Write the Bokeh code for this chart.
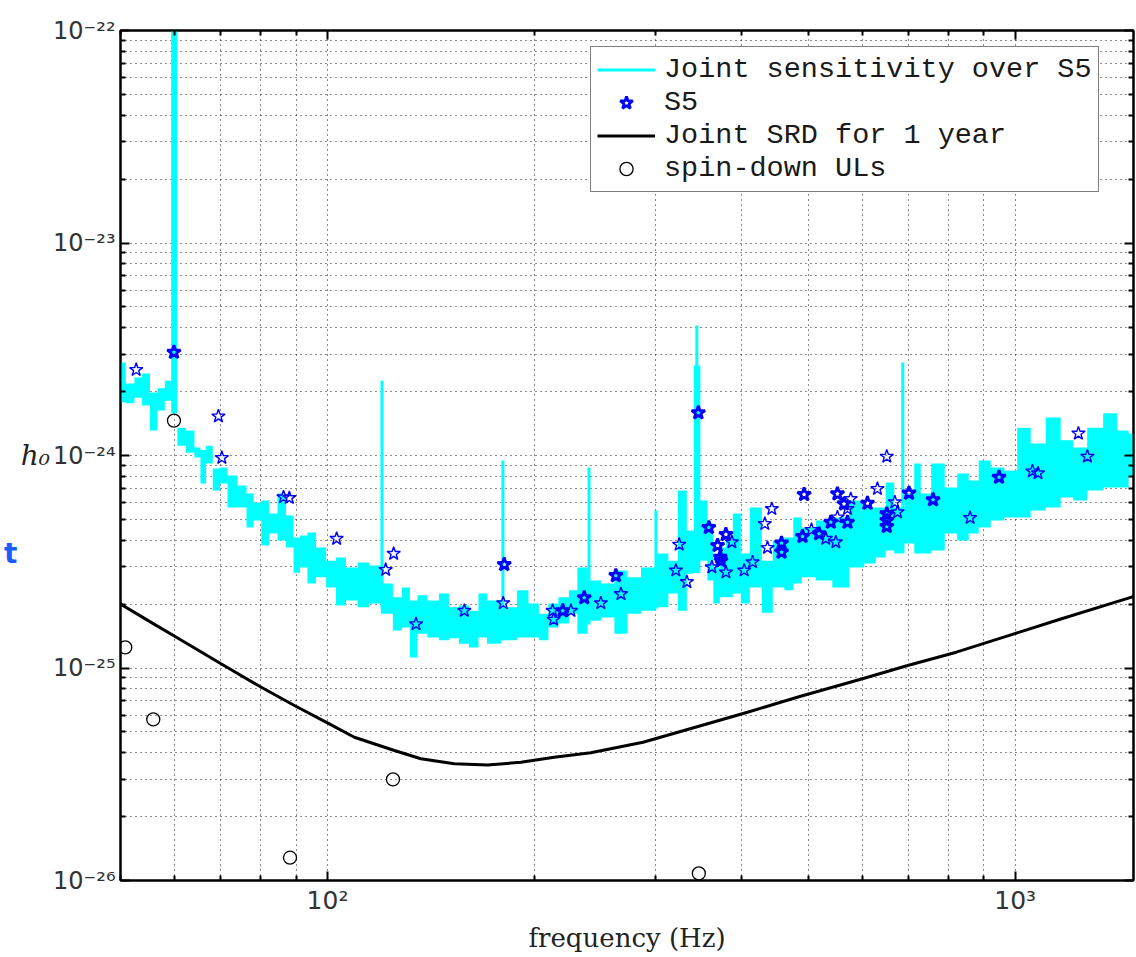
from bokeh.plotting import figure
from bokeh.models import (FixedTicker, CustomJSTickFormatter, LogAxis,
                          Legend, LegendItem, Range1d)
from bokeh.embed import file_html
from bokeh.resources import INLINE

# ---------------- data ----------------
# Joint sensitivity over S5: noisy band, per frequency upper / lower extent
sens_f = [50.0, 51.8, 53.0, 54.5, 55.9, 57.3, 58.7, 59.8, 61.2, 63.3, 64.8, 65.9, 67.3,
          68.9, 70.7, 72.4, 75.6, 76.9, 79.3, 80.9, 83.6, 85.6, 88.5, 90.0, 92.4, 94.6,
          97.9, 101.2, 104.6, 108.2, 113.0, 116.8, 122.4, 126.6, 130.0, 133.6, 136.7,
          142.8, 147.7, 152.7, 157.9, 163.3, 168.3, 172.9, 184.8, 192.4, 199.6, 206.4,
          212.7, 220.7, 228.2, 233.6, 244.1, 255.7, 267.1, 279.0, 292.4, 308.4, 317.8,
          328.6, 337.5, 344.4, 352.6, 360.9, 367.0, 377.0, 382.1, 395.1, 403.1, 419.6,
          436.8, 451.6, 471.7, 479.7, 499.3, 526.8, 557.7, 590.3, 616.6, 637.6, 659.2,
          674.9, 704.9, 721.6, 736.2, 774.1, 805.8, 841.6, 870.4, 900.0, 943.2, 985.1,
          1028.9, 1078.2, 1137.6, 1192.0, 1237.0, 1309.2, 1376.6, 1437.9, 1486.6]
sens_top = [2.74e-24, 2.18e-24, 2.33e-24, 2.43e-24, 1.98e-24, 2.07e-24, 2.25e-24, 5.0e-22,
            1.35e-24, 1.31e-24, 1.09e-24, 1.06e-24, 1.11e-24, 8.69e-25, 8.78e-25, 8.05e-25,
            7.22e-25, 6.62e-25, 6.01e-25, 6.14e-25, 5.33e-25, 6.62e-25, 5.22e-25, 4.11e-25,
            4.20e-25, 4.34e-25, 3.69e-25, 3.20e-25, 3.31e-25, 2.97e-25, 3.14e-25, 3.04e-25,
            2.50e-25, 2.15e-25, 2.39e-25, 2.08e-25, 2.20e-25, 2.08e-25, 2.24e-25, 1.93e-25,
            1.97e-25, 1.86e-25, 2.24e-25, 2.08e-25, 1.93e-25, 2.32e-25, 2.01e-25, 1.80e-25,
            2.01e-25, 2.15e-25, 2.32e-25, 2.97e-25, 2.58e-25, 2.50e-25, 2.88e-25, 2.67e-25,
            2.97e-25, 3.46e-25, 3.20e-25, 6.84e-25, 4.44e-25, 2.65e-24, 6.14e-25, 4.79e-25,
            2.97e-25, 3.69e-25, 3.98e-25, 5.33e-25, 3.46e-25, 5.69e-25, 3.20e-25, 3.98e-25,
            4.11e-25, 5.11e-25, 4.58e-25, 4.94e-25, 5.11e-25, 6.14e-25, 5.69e-25, 5.69e-25,
            7.46e-25, 5.69e-25, 6.62e-25, 9.17e-25, 6.62e-25, 9.17e-25, 7.07e-25, 8.23e-25,
            7.63e-25, 9.47e-25, 8.78e-25, 8.50e-25, 1.35e-24, 1.14e-24, 1.51e-24, 1.18e-24,
            1.09e-24, 1.35e-24, 1.58e-24, 1.31e-24, 1.27e-24]
sens_bot = [1.78e-24, 1.76e-24, 1.87e-24, 1.72e-24, 1.31e-24, 1.63e-24, 1.81e-24, 1.58e-24,
            1.11e-24, 1.03e-24, 9.78e-25, 7.38e-25, 9.17e-25, 6.84e-25, 7.38e-25, 5.69e-25,
            5.69e-25, 4.58e-25, 4.94e-25, 3.77e-25, 4.30e-25, 3.98e-25, 3.69e-25, 2.81e-25,
            2.97e-25, 2.50e-25, 2.67e-25, 2.39e-25, 1.97e-25, 2.08e-25, 1.93e-25, 2.01e-25,
            1.80e-25, 1.50e-25, 1.55e-25, 1.12e-25, 1.45e-25, 1.39e-25, 1.35e-25, 1.38e-25,
            1.30e-25, 1.25e-25, 1.39e-25, 1.30e-25, 1.35e-25, 1.39e-25, 1.39e-25, 1.35e-25,
            1.55e-25, 1.62e-25, 1.80e-25, 1.45e-25, 1.67e-25, 1.73e-25, 1.45e-25, 1.80e-25,
            1.86e-25, 1.93e-25, 2.24e-25, 1.86e-25, 2.78e-25, 2.80e-25, 3.20e-25, 2.58e-25,
            2.01e-25, 2.15e-25, 2.15e-25, 2.24e-25, 2.01e-25, 2.39e-25, 1.82e-25, 2.39e-25,
            2.32e-25, 2.50e-25, 2.67e-25, 2.58e-25, 2.39e-25, 2.97e-25, 3.10e-25, 3.31e-25,
            3.57e-25, 3.46e-25, 3.85e-25, 3.46e-25, 3.46e-25, 3.57e-25, 4.30e-25, 3.98e-25,
            4.30e-25, 4.58e-25, 4.94e-25, 5.11e-25, 5.11e-25, 5.51e-25, 5.69e-25, 6.34e-25,
            6.14e-25, 6.84e-25, 7.07e-25, 7.07e-25, 7.88e-25]

# narrow lines (spikes) in the joint sensitivity
line_f = [120.0, 179.9, 240.0, 300.3, 344.4, 686.3]
line_lo = [1.9e-25, 1.35e-25, 1.6e-25, 1.9e-25, 2.0e-24, 3.5e-25]
line_hi = [2.25e-24, 9.47e-25, 8.78e-25, 5.51e-25, 4.09e-24, 2.74e-24]

# S5 upper limits (stars)
s5_f = [52.7, 69.4, 70.2, 86.3, 88.0, 103.1, 124.8, 121.5, 134.5, 158.1, 180.1, 212.5,
        213.2, 225.9, 249.7, 267.1, 321.0, 324.6, 333.1, 362.2, 379.6, 387.3, 403.5,
        415.0, 432.4, 436.3, 442.7, 505.6, 530.4, 548.4, 576.6, 570.3, 551.5, 630.5,
        650.5, 668.3, 674.3, 859.7, 1059.3, 1079.3, 1235.8, 1273.4]
s5_h = [2.53e-24, 1.53e-24, 9.75e-25, 6.37e-25, 6.32e-25, 4.06e-25, 3.45e-25, 2.90e-25,
        1.61e-25, 1.86e-25, 2.02e-25, 1.86e-25, 1.69e-25, 1.86e-25, 2.02e-25, 2.23e-25,
        2.88e-25, 3.81e-25, 2.54e-25, 2.98e-25, 2.82e-25, 3.91e-25, 2.88e-25, 3.15e-25,
        4.77e-25, 3.68e-25, 5.61e-25, 4.47e-25, 4.06e-25, 3.91e-25, 6.25e-25, 5.61e-25,
        5.12e-25, 6.97e-25, 9.89e-25, 6.03e-25, 5.41e-25, 5.09e-25, 8.43e-25, 8.26e-25,
        1.27e-24, 9.89e-25]
# S5 stars drawn heavier (overlapping pulsars)
s5b_f = [59.8, 180.7, 219.8, 236.2, 262.6, 346.1, 358.5, 369.2, 379.6, 373.3, 372.4,
         457.3, 457.3, 493.2, 490.6, 518.6, 539.3, 551.5, 563.8, 570.3, 609.8, 650.5,
         650.5, 650.5, 700.8, 759.5, 947.3]
s5b_h = [3.06e-24, 3.07e-25, 1.86e-25, 2.14e-25, 2.72e-25, 1.59e-24, 4.58e-25, 3.77e-25,
         4.25e-25, 3.20e-25, 3.32e-25, 3.87e-25, 3.51e-25, 6.55e-25, 4.16e-25, 4.28e-25,
         4.85e-25, 6.60e-25, 5.92e-25, 4.85e-25, 5.96e-25, 5.31e-25, 4.94e-25, 4.63e-25,
         6.65e-25, 6.19e-25, 7.90e-25]

# Joint SRD for 1 year
srd_f = [50.0, 55.4, 60.2, 70.0, 80.1, 89.5, 100.6, 109.4, 125.1, 136.7, 152.9, 171.0,
         191.1, 213.6, 241.5, 287.6, 342.7, 408.1, 486.1, 599.6, 697.6, 821.1, 977.9,
         1165.0, 1453.0, 1486.6]
srd_h = [2.00e-25, 1.64e-25, 1.40e-25, 1.047e-25, 8.12e-26, 6.66e-26, 5.46e-26, 4.72e-26,
         4.09e-26, 3.74e-26, 3.54e-26, 3.50e-26, 3.60e-26, 3.80e-26, 3.99e-26, 4.47e-26,
         5.26e-26, 6.19e-26, 7.34e-26, 8.90e-26, 1.027e-25, 1.187e-25, 1.42e-25, 1.70e-25,
         2.12e-25, 2.17e-25]

# spin-down upper limits
sd_f = [50.8, 55.8, 59.8, 88.2, 124.5, 346.7]
sd_h = [1.25e-25, 5.73e-26, 1.46e-24, 1.28e-26, 2.99e-26, 1.08e-26]

# axis ticks
x_major = [100, 1000]
x_minor = [50, 60, 70, 80, 90, 200, 300, 400, 500, 600, 700, 800, 900]
y_major = [1e-26, 1e-25, 1e-24, 1e-23, 1e-22]
y_minor = [k * m for m in (1e-26, 1e-25, 1e-24, 1e-23) for k in range(2, 10)]
# height at which the stray slide letter "t" sits on the far left
stray_t_level = [3.46e-25]

CYAN = "#00ffff"
BLUE = "#0000ff"
W, H = 1136, 957

# ---------------- figure ----------------
p = figure(width=W, height=H, x_axis_type="log", y_axis_type="log",
           x_range=Range1d(50, 1486), y_range=Range1d(1e-26, 1e-22),
           output_backend="svg", toolbar_location=None, title=None,
           min_border_left=120, min_border_right=3, min_border_top=30,
           min_border_bottom=77, background_fill_color="white",
           border_fill_color="white")
p.outline_line_color = "black"
p.outline_line_width = 2

xt = FixedTicker(ticks=x_major, minor_ticks=x_minor)
yt = FixedTicker(ticks=y_major, minor_ticks=y_minor)

fmt_code = """
const sup = {"-":"\u207b","0":"\u2070","1":"\u00b9","2":"\u00b2","3":"\u00b3",
             "4":"\u2074","5":"\u2075","6":"\u2076","7":"\u2077","8":"\u2078","9":"\u2079"};
const e = Math.round(Math.log10(tick));
return "10" + String(e).split("").map(c => sup[c]).join("");
"""

def style_axis(ax, ticker, show_labels):
    ax.ticker = ticker
    ax.axis_line_color = "black"
    ax.axis_line_width = 2
    ax.major_tick_in = 9
    ax.major_tick_out = 0
    ax.minor_tick_in = 5
    ax.minor_tick_out = 0
    ax.major_tick_line_width = 2
    ax.minor_tick_line_width = 2
    ax.major_tick_line_color = "black"
    ax.minor_tick_line_color = "black"
    if show_labels:
        ax.formatter = CustomJSTickFormatter(code=fmt_code)
        ax.major_label_text_font = "DejaVu Sans"
        ax.major_label_text_font_size = "24px"
        ax.major_label_text_color = "#333333"
    else:
        ax.formatter = CustomJSTickFormatter(code='return " ";')
        ax.major_label_text_font_size = "2px"
        ax.major_label_text_alpha = 0.0
        ax.major_label_standoff = 0
        ax.axis_label_standoff = 0

xax = p.xaxis[0]
yax = p.yaxis[0]
style_axis(xax, xt, True)
style_axis(yax, yt, True)
xax.major_label_text_font_size = "25px"
xax.major_label_standoff = 5
yax.major_label_standoff = 5
xax.axis_label = "frequency (Hz)"
xax.axis_label_text_font = "DejaVu Serif"
xax.axis_label_text_font_style = "normal"
xax.axis_label_text_font_size = "26px"
xax.axis_label_text_color = "#222222"
xax.axis_label_standoff = 5

yax.axis_label_orientation = "horizontal"
yax.axis_label = "h\u2080"
yax.axis_label_text_font = "DejaVu Serif"
yax.axis_label_text_font_style = "italic"
yax.axis_label_text_font_size = "28px"
yax.axis_label_text_color = "#222222"
yax.axis_label_standoff = 0

top_ax = LogAxis()
style_axis(top_ax, xt, False)
p.add_layout(top_ax, "above")
right_ax = LogAxis()
style_axis(right_ax, yt, False)
p.add_layout(right_ax, "right")

# stray blue letter from the source slide, at the far left
t_ax = LogAxis(ticker=FixedTicker(ticks=stray_t_level, minor_ticks=[]),
               formatter=CustomJSTickFormatter(code='return "t";'),
               axis_line_color=None, major_tick_line_color=None,
               minor_tick_line_color=None, major_tick_in=0, major_tick_out=0,
               minor_tick_in=0, minor_tick_out=0, major_label_standoff=0,
               major_label_text_font="DejaVu Sans",
               major_label_text_font_style="bold",
               major_label_text_font_size="28px",
               major_label_text_color="#1a5cff")
p.add_layout(t_ax, "left")

for g, t in ((p.xgrid, xt), (p.ygrid, yt)):
    g.ticker = t
    g.grid_line_color = "black"
    g.grid_line_dash = "1 4"
    g.grid_line_width = 1
    g.grid_line_alpha = 0.9
    g.minor_grid_line_color = "black"
    g.minor_grid_line_dash = "1 4"
    g.minor_grid_line_width = 1
    g.minor_grid_line_alpha = 0.9

# ---------------- glyphs ----------------
p.varea_step(x=sens_f, y1=sens_bot, y2=sens_top, step_mode="center",
             fill_color=CYAN, fill_alpha=1.0)
spikes = p.segment(x0=line_f, y0=line_lo, x1=line_f, y1=line_hi,
                   line_color=CYAN, line_width=3)
stars = p.scatter(s5_f, s5_h, marker="star", size=14, fill_color=None,
                  line_color=BLUE, line_width=1.4)
stars_b = p.scatter(s5b_f, s5b_h, marker="star", size=14, fill_color=None,
                    line_color=BLUE, line_width=2.8)
srd = p.line(srd_f, srd_h, line_color="black", line_width=3)
sd = p.scatter(sd_f, sd_h, marker="circle", size=13, fill_color=None,
               line_color="black", line_width=1.3)

legend = Legend(items=[
    LegendItem(label="Joint sensitivity over S5", renderers=[spikes]),
    LegendItem(label="S5", renderers=[stars_b]),
    LegendItem(label="Joint SRD for 1 year", renderers=[srd]),
    LegendItem(label="spin-down ULs", renderers=[sd]),
], location=(470, 688))
legend.padding = 6
legend.spacing = 0
legend.glyph_width = 58
legend.glyph_height = 33
legend.label_height = 33
legend.label_standoff = 9
legend.label_text_font = "Liberation Mono"
legend.label_text_font_size = "28.5px"
legend.label_text_color = "#1a1a1a"
legend.border_line_color = "black"
legend.border_line_width = 1
legend.background_fill_color = "white"
legend.background_fill_alpha = 1.0
p.add_layout(legend)

with open("out.html", "w", encoding="utf-8") as fh:
    fh.write(file_html(p, INLINE))
